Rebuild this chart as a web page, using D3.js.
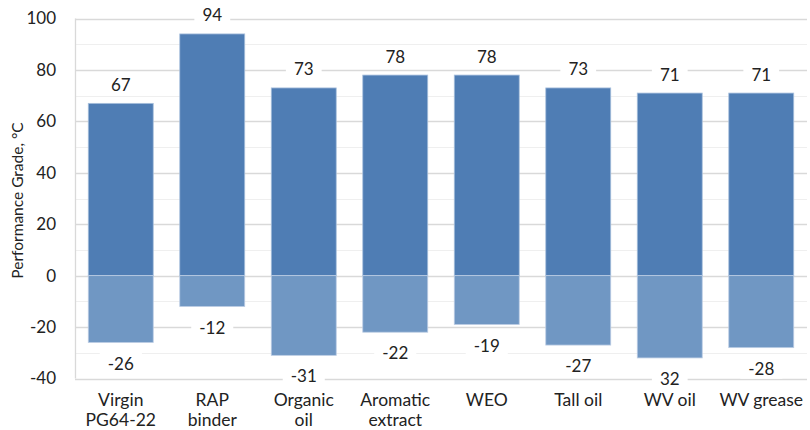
<!DOCTYPE html>
<html><head><meta charset="utf-8">
<script src="https://cdn.jsdelivr.net/npm/d3@7"></script>
<style>body{margin:0;background:#fff;}svg{display:block;font-family:Lato,"Noto Sans",sans-serif;}</style>
</head><body><svg id="c" width="810" height="430"></svg>
<script>
const categories = [["Virgin","PG64-22"],["RAP","binder"],["Organic","oil"],["Aromatic","extract"],["WEO"],["Tall oil"],["WV oil"],["WV grease"]];
const highValues = [67, 94, 73, 78, 78, 73, 71, 71];
const lowValues = [-26, -12, -31, -22, -19, -27, -32, -28];
const lowLabels = ["-26","-12","-31","-22","-19","-27","32","-28"];
const yTicks = [-40, -20, 0, 20, 40, 60, 80, 100];
const yTitle = "Performance Grade, °C";

const svg = d3.select("#c");
const m = {left: 75, right: 3, top: 18.5, bottom: 51.5};
const W = 810, H = 430;
const x = d3.scaleBand().domain(d3.range(categories.length)).range([m.left, W - m.right]).paddingInner(0.29).paddingOuter(0.145);
const y = d3.scaleLinear().domain([-40, 100]).range([H - m.bottom, m.top]);

// minor grid
const g = svg.append("g");
g.selectAll("line.minor").data(d3.range(-30, 100, 20)).join("line")
  .attr("x1", m.left).attr("x2", W - m.right).attr("y1", d => Math.round(y(d)) + 0.5).attr("y2", d => Math.round(y(d)) + 0.5)
  .attr("stroke", "#efefef").attr("stroke-width", 1.2);
g.selectAll("line.major").data(yTicks).join("line")
  .attr("x1", m.left).attr("x2", W - m.right).attr("y1", d => Math.round(y(d)) + 0.5).attr("y2", d => Math.round(y(d)) + 0.5)
  .attr("stroke", "#d9d9d9").attr("stroke-width", 1.3);
svg.append("line").attr("x1", m.left + 0.5).attr("x2", m.left + 0.5).attr("y1", y(100)).attr("y2", y(-40))
  .attr("stroke", "#d9d9d9").attr("stroke-width", 1.3);

// y axis
const yAxis = svg.append("g").attr("transform", `translate(${m.left},0)`)
  .call(d3.axisLeft(y).tickValues(yTicks).tickSize(0).tickPadding(19).tickFormat(d => String(d)));
yAxis.select(".domain").remove();
yAxis.selectAll("text").attr("font-size", 17).attr("fill", "#222").attr("font-family", "Lato, sans-serif");

svg.append("text").attr("transform", `translate(23,${(y(100)+y(-40))/2 + 2}) rotate(-90)`)
  .attr("text-anchor", "middle").attr("font-size", 15.5).attr("fill", "#222").text(yTitle);

// bars
svg.selectAll("rect.hi").data(highValues).join("rect")
  .attr("x", (d, i) => x(i)).attr("width", x.bandwidth())
  .attr("y", d => y(d)).attr("height", d => y(0) - y(d))
  .attr("fill", "#4f7db4").attr("stroke", "#a9c0dd").attr("stroke-width", 0.8);
svg.selectAll("rect.lo").data(lowValues).join("rect")
  .attr("x", (d, i) => x(i)).attr("width", x.bandwidth())
  .attr("y", y(0)).attr("height", d => y(d) - y(0))
  .attr("fill", "#7097c3").attr("stroke", "#bccde4").attr("stroke-width", 0.8);

// value labels with white backgrounds
function label(vals, texts, dy) {
  vals.forEach((v, i) => {
    const cx = x(i) + x.bandwidth() / 2;
    const cy = y(v) + dy;
    const t = svg.append("text").attr("x", cx).attr("y", cy).attr("text-anchor", "middle")
      .attr("dominant-baseline", "central").attr("font-size", 17).attr("fill", "#222").text(texts[i]);
    const b = t.node().getBBox();
    svg.insert("rect", () => t.node()).attr("x", b.x - 8).attr("y", b.y).attr("width", b.width + 16).attr("height", b.height).attr("fill", "#fff");
  });
}
label(highValues, highValues.map(String), -19);
label(lowValues, lowLabels, 20.5);

// x labels
categories.forEach((lines, i) => {
  const t = svg.append("text").attr("x", x(i) + x.bandwidth() / 2).attr("y", 406).attr("text-anchor", "middle")
    .attr("font-size", 17.5).attr("fill", "#222");
  lines.forEach((s, j) => t.append("tspan").attr("x", x(i) + x.bandwidth() / 2).attr("dy", j ? 19.5 : 0).text(s));
});
</script></body></html>
